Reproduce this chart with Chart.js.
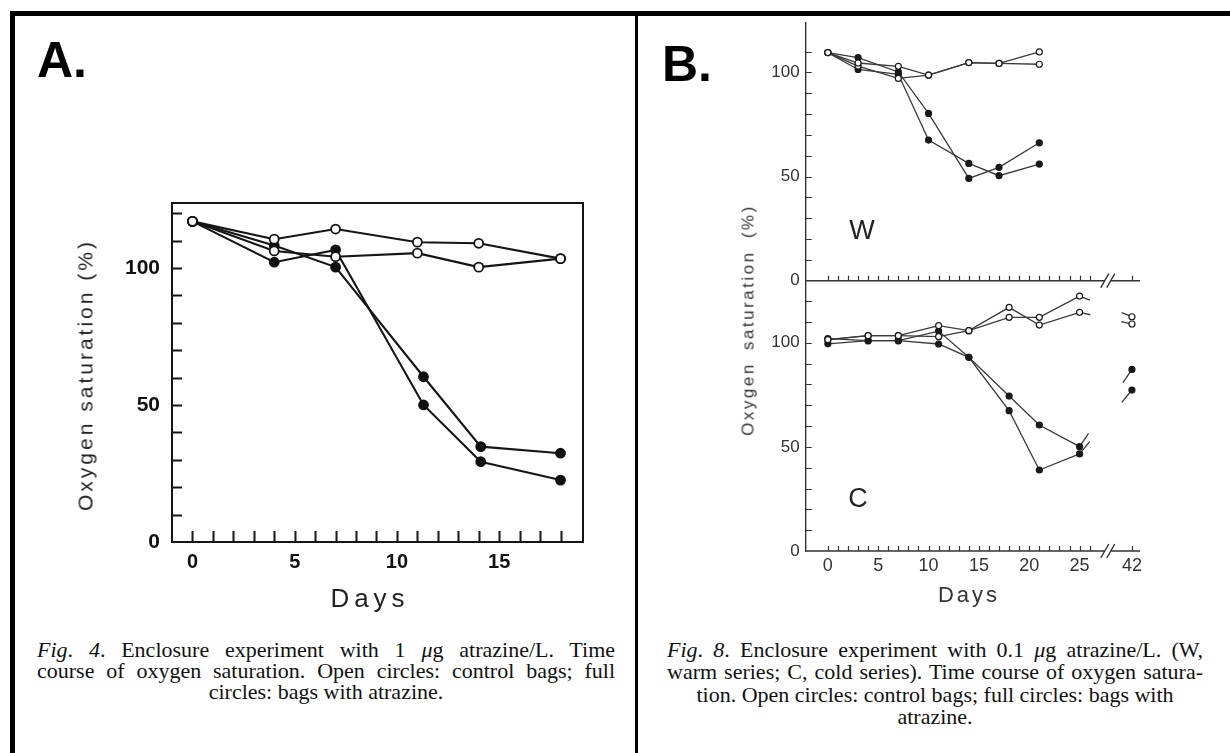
<!DOCTYPE html>
<html>
<head>
<meta charset="utf-8">
<script src="https://cdn.jsdelivr.net/npm/chart.js@4.4.0/dist/chart.umd.min.js"></script>
<style>
  html, body { margin: 0; padding: 0; background: #fff; }
  body { position: relative; width: 1230px; height: 753px; overflow: hidden; font-family: "Liberation Sans", Arial, sans-serif; color: #111; }
  .abs { position: absolute; }
  .frame { left: 10px; top: 11px; width: 1250px; height: 780px; border-left: 5px solid #000; border-top: 5px solid #000; box-sizing: border-box; }
  .divider { left: 635px; top: 11px; width: 3px; height: 780px; background: #000; }
  .panel-label { font-weight: bold; font-size: 50px; line-height: 50px; color: #000; }
  .ytitle { transform: translate(-50%, -50%) rotate(-90deg); white-space: nowrap; line-height: 1; }
  .ctitle { transform: translate(-50%, -50%); white-space: nowrap; line-height: 1; }
  .caption { font-family: "Liberation Serif", "Times New Roman", serif; font-size: 22px; color: #111; }
  .caption div { text-align: justify; text-align-last: justify; }
  .caption div.last { text-align: center; text-align-last: center; }
  canvas { position: absolute; }
</style>
</head>
<body>
<div class="abs frame"></div>
<div class="abs divider"></div>

<div class="abs panel-label" style="left:37px; top:35px;">A.</div>
<div class="abs panel-label" style="left:662px; top:39px;">B.</div>

<canvas id="chartA" width="560" height="450" style="left:50px; top:170px;"></canvas>
<canvas id="chartW" width="580" height="294" style="left:640px; top:6px;"></canvas>
<canvas id="chartC" width="580" height="346" style="left:640px; top:264px;"></canvas>

<div class="abs ytitle" style="left:85px; top:375px; font-size:21px; letter-spacing:3px; color:#222;">Oxygen saturation (%)</div>
<div class="abs ctitle" style="left:370px; top:598px; font-size:26px; letter-spacing:5px; color:#222;">Days</div>

<div class="abs ytitle" style="left:748px; top:320px; font-size:17px; letter-spacing:2.5px; word-spacing:5px; color:#333;">Oxygen saturation (%)</div>
<div class="abs ctitle" style="left:969px; top:595px; font-size:22px; letter-spacing:3px; color:#333;">Days</div>
<div class="abs ctitle" style="left:862px; top:230px; font-size:27px; color:#222;">W</div>
<div class="abs ctitle" style="left:858px; top:498px; font-size:27px; color:#222;">C</div>

<div class="abs caption" style="left:37px; top:639px; width:578px; line-height:21px;">
  <div><i>Fig</i>. <i>4</i>. Enclosure experiment with 1 <i>μ</i>g atrazine/L. Time</div>
  <div>course of oxygen saturation. Open circles: control bags; full</div>
  <div class="last">circles: bags with atrazine.</div>
</div>
<div class="abs caption" style="left:667px; top:639px; width:536px; line-height:22.3px;">
  <div><i>Fig</i>. <i>8</i>. Enclosure experiment with 0.1 <i>μ</i>g atrazine/L. (W,</div>
  <div>warm series; C, cold series). Time course of oxygen satura-</div>
  <div class="last">tion. Open circles: control bags; full circles: bags with</div>
  <div class="last">atrazine.</div>
</div>

<script>
// Fig. 4 (panel A), 1 ug atrazine/L
const daysA = [0, 4, 7, 11, 14, 18];
const daysAtrA = [0, 4, 7, 11.3, 14.1, 18];
const ctrlA1 = [117, 110.5, 114.2, 109.4, 109.0, 103.4];
const ctrlA2 = [117, 106.2, 104.1, 105.4, 100.3, 103.4];
const atrA1 = [117, 102.1, 106.6, 50.0, 29.3, 22.6];
const atrA2 = [117, 108.2, 100.3, 60.3, 34.8, 32.4];
const xTicksA = [0, 5, 10, 15];
const yTicksA = [0, 50, 100];

// Fig. 8 (panel B), warm series
const daysW = [0, 3, 7, 10, 14, 17, 21];
const ctrlW1 = [109.5, 104.5, 102.9, 98.7, 104.7, 104.3, 109.8];
const ctrlW2 = [109.5, 103.0, 97.1, 98.7, 104.7, 104.3, 103.9];
const atrW1 = [109.5, 107.1, 100.2, 80.3, 49.1, 54.4, 66.2];
const atrW2 = [109.5, 101.4, 99.1, 67.5, 56.3, 50.4, 56.0];

// Fig. 8 (panel B), cold series
const daysC = [0, 4, 7, 11, 14, 18, 21, 25, 42];
const ctrlC1 = [101.5, 103.4, 103.4, 108.2, 105.8, 117.0, 108.5, 114.6, 109.0];
const ctrlC2 = [101.5, 103.4, 103.4, 102.9, 105.8, 112.2, 112.2, 122.4, 112.5];
const atrC1 = [102.0, 101.0, 101.0, 105.6, 93.0, 74.4, 60.5, 50.1, 87.2];
const atrC2 = [99.5, 101.0, 101.0, 99.4, 93.0, 67.4, 38.9, 46.6, 77.3];
const xTicksB = [0, 5, 10, 15, 20, 25, 42];
const yTicksB = [0, 50, 100];

// broken day axis in panel B: days past the break sit 11.8 days further left
const breakDay = 27.8;
const breakShift = 11.8;
function axisDay(d) {
  return d > breakDay ? d - breakShift : d;
}

const SANS = '"Liberation Sans", Arial, sans-serif';

function range(from, to, step) {
  const out = [];
  for (let v = from; v <= to + 1e-9; v += step) out.push(v);
  return out;
}

function pts(days, vals) {
  return days.map((d, i) => ({ x: axisDay(d), y: vals[i] }));
}

function series(days, vals, open, st) {
  return {
    data: pts(days, vals),
    borderColor: st.line,
    borderWidth: st.width,
    pointRadius: st.r,
    pointBorderWidth: st.pw,
    pointBorderColor: st.point,
    pointBackgroundColor: open ? '#fff' : st.point,
    tension: 0
  };
}

// short stubs on both sides of the axis break instead of the full line
function stubbed(ds, stub) {
  const last = ds.data.length - 1;
  ds.segment = {
    borderDash: ctx => {
      if (ctx.p1DataIndex !== last) return undefined;
      const len = Math.hypot(ctx.p1.x - ctx.p0.x, ctx.p1.y - ctx.p0.y);
      return [stub, Math.max(len - 2 * stub, 0), stub + 2, 1000];
    }
  };
  return ds;
}

// inward tick marks, optional frame and broken x axis line
function axisMarks(o) {
  return {
    id: 'axisMarks',
    beforeDatasetsDraw(chart) {
      const { ctx, chartArea: a, scales: { x, y } } = chart;
      ctx.save();
      ctx.strokeStyle = o.color;
      ctx.lineWidth = o.width;
      ctx.beginPath();
      o.xMarks.forEach(d => {
        const px = Math.round(x.getPixelForValue(axisDay(d))) + 0.5;
        ctx.moveTo(px, a.bottom);
        ctx.lineTo(px, a.bottom - o.xLen);
      });
      o.yMarks.forEach(v => {
        const py = Math.round(y.getPixelForValue(v)) + 0.5;
        ctx.moveTo(a.left, py);
        ctx.lineTo(a.left + o.yLen, py);
      });
      ctx.stroke();
      if (o.frame) {
        ctx.lineWidth = o.frame;
        ctx.strokeRect(a.left, a.top, a.right - a.left, a.bottom - a.top);
      }
      if (o.broken) {
        const bx = x.getPixelForValue(breakDay);
        const yb = a.bottom;
        ctx.lineWidth = o.axisWidth;
        ctx.beginPath();
        ctx.moveTo(a.left, yb);
        ctx.lineTo(bx - 3, yb);
        ctx.moveTo(bx + 3, yb);
        ctx.lineTo(a.right, yb);
        [-3, 3].forEach(dx => {
          ctx.moveTo(bx + dx - 4, yb + 7);
          ctx.lineTo(bx + dx + 4, yb - 7);
        });
        ctx.stroke();
      }
      ctx.restore();
    }
  };
}

function baseOptions(padding, xScale, yScale) {
  return {
    responsive: false,
    animation: false,
    events: [],
    layout: { padding: padding },
    plugins: { legend: { display: false }, tooltip: { enabled: false } },
    scales: { x: xScale, y: yScale }
  };
}

// ---------- panel A ----------
const stA = { line: '#151515', width: 2.1, r: 4.5, pw: 1.8, point: '#111' };
new Chart(document.getElementById('chartA'), {
  type: 'line',
  data: {
    datasets: [
      series(daysA, ctrlA1, true, stA),
      series(daysA, ctrlA2, true, stA),
      series(daysAtrA, atrA1, false, stA),
      series(daysAtrA, atrA2, false, stA)
    ]
  },
  options: baseOptions(
    { top: 33, right: 27, left: 0, bottom: 0 },
    {
      type: 'linear', min: -1, max: 19.1,
      grid: { display: false, drawTicks: false },
      border: { display: false },
      afterBuildTicks: s => { s.ticks = xTicksA.map(v => ({ value: v })); },
      afterFit: s => { s.height = 78; },
      ticks: { padding: 8, autoSkip: false, maxRotation: 0, color: '#111',
               font: { family: SANS, size: 20, weight: 'bold' } }
    },
    {
      type: 'linear', min: 0, max: 123.7,
      grid: { display: false, drawTicks: false },
      border: { display: false },
      afterBuildTicks: s => { s.ticks = yTicksA.map(v => ({ value: v })); },
      afterFit: s => { s.width = 122; },
      ticks: { padding: 12, color: '#111', font: { family: SANS, size: 21, weight: 'bold' } }
    }
  ),
  plugins: [axisMarks({ color: '#151515', width: 2, frame: 2, xLen: 11, yLen: 10,
                        xMarks: range(0, 18, 1), yMarks: range(10, 120, 10) })]
});

// ---------- panel B ----------
const stB = { line: '#3a3a3a', width: 1.3, r: 3, pw: 1.2, point: '#1a1a1a' };

function xScaleB(height, showLabels) {
  return {
    type: 'linear', min: -2.2, max: 31,
    grid: { display: false, drawTicks: false },
    border: { display: false },
    afterBuildTicks: s => { s.ticks = xTicksB.map(d => ({ value: axisDay(d) })); },
    afterFit: s => { s.height = height; },
    ticks: {
      display: showLabels, padding: 4, autoSkip: false, maxRotation: 0, color: '#333',
      font: { family: SANS, size: 18 },
      callback: (v, i) => xTicksB[i]
    }
  };
}

function yScaleB(max) {
  return {
    type: 'linear', min: 0, max: max,
    grid: { display: false, drawTicks: false },
    border: { display: true, color: '#333', width: 1.4 },
    afterBuildTicks: s => { s.ticks = yTicksB.map(v => ({ value: v })); },
    afterFit: s => { s.width = 165.7; },
    ticks: { padding: 6, color: '#333', font: { family: SANS, size: 17 } }
  };
}

const marksB = { color: '#333', width: 1.2, axisWidth: 1.4, xLen: 5, yLen: 6, broken: true,
                 xMarks: range(0, 26, 1).concat([42]) };

new Chart(document.getElementById('chartW'), {
  type: 'line',
  data: {
    datasets: [
      series(daysW, ctrlW1, true, stB),
      series(daysW, ctrlW2, true, stB),
      series(daysW, atrW1, false, stB),
      series(daysW, atrW2, false, stB)
    ]
  },
  options: baseOptions({ top: 17, right: 80, left: 0, bottom: 0 }, xScaleB(19.3, false), yScaleB(123.7)),
  plugins: [axisMarks(Object.assign({}, marksB, { yMarks: range(10, 110, 10) }))]
});

new Chart(document.getElementById('chartC'), {
  type: 'line',
  data: {
    datasets: [
      stubbed(series(daysC, ctrlC1, true, stB), 11),
      stubbed(series(daysC, ctrlC2, true, stB), 11),
      stubbed(series(daysC, atrC1, false, stB), 16),
      stubbed(series(daysC, atrC2, false, stB), 16)
    ]
  },
  options: baseOptions({ top: 16.7, right: 80, left: 0, bottom: 0 }, xScaleB(59, true), yScaleB(129.8)),
  plugins: [axisMarks(Object.assign({}, marksB, { yMarks: range(10, 120, 10) }))]
});
</script>
</body>
</html>
